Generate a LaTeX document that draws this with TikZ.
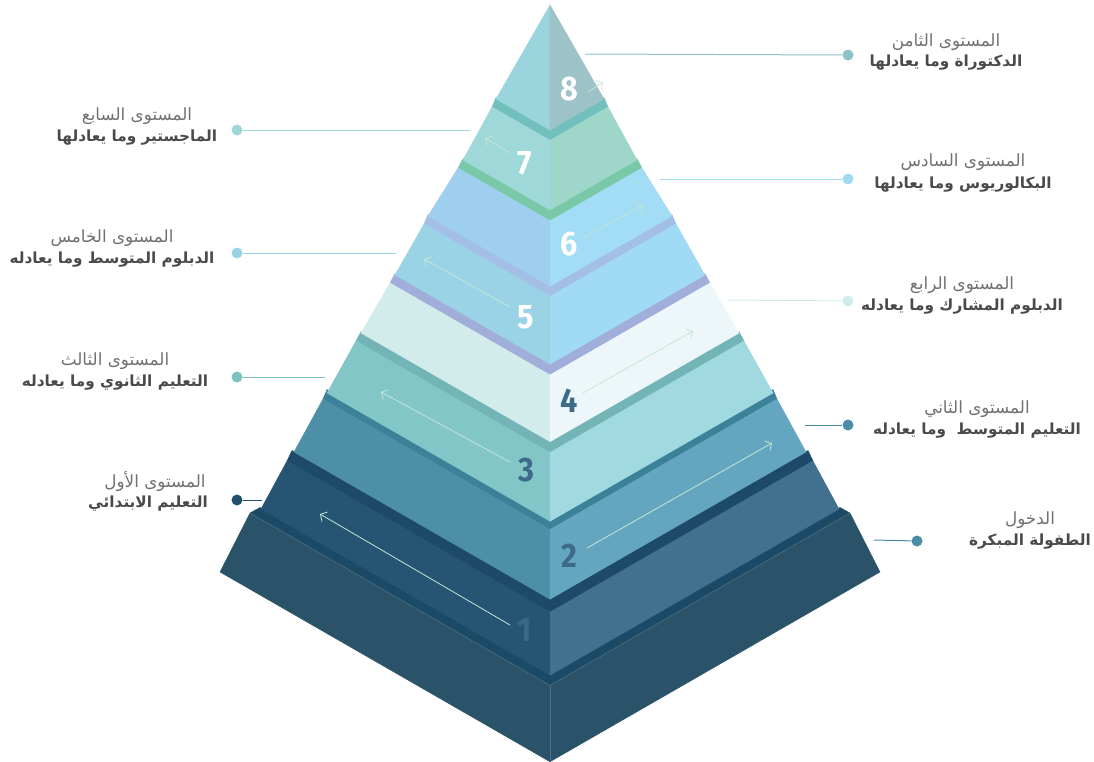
\documentclass[tikz,border=0pt]{standalone}
\usepackage{fontspec}
\usetikzlibrary{arrows.meta}
\TeXXeTstate=1
\newfontfamily\arabicfont[Script=Arabic]{DejaVu Sans}
\newfontfamily\numfont[FakeStretch=0.9]{Fira Sans}
% colours
\definecolor{eTl}{HTML}{9AD4DC}\definecolor{eTr}{HTML}{9DC2C8}
\definecolor{sS}{HTML}{72C0BD}\definecolor{sL}{HTML}{9FD8D8}\definecolor{sR}{HTML}{9ED6C9}
\definecolor{xS}{HTML}{79C9A8}\definecolor{xL}{HTML}{9FCFEF}\definecolor{xR}{HTML}{A2DCF5}
\definecolor{fS}{HTML}{A3BFE5}\definecolor{fL}{HTML}{9AD3E5}\definecolor{fR}{HTML}{A0DAF4}
\definecolor{qS}{HTML}{A2AEDA}\definecolor{qL}{HTML}{D2EBEB}\definecolor{qR}{HTML}{EDF7F9}
\definecolor{tS}{HTML}{73B4B7}\definecolor{tL}{HTML}{82C6C8}\definecolor{tR}{HTML}{A0D9E0}
\definecolor{wS}{HTML}{3B8197}\definecolor{wL}{HTML}{4D8FA6}\definecolor{wR}{HTML}{64A6BF}
\definecolor{oS}{HTML}{1D4A68}\definecolor{oL}{HTML}{255573}\definecolor{oR}{HTML}{41718F}
\definecolor{bS}{HTML}{1B4A66}\definecolor{bL}{HTML}{2A5369}\definecolor{bR}{HTML}{2A5369}
\definecolor{numdark}{HTML}{3D6A88}
\definecolor{arrowc}{HTML}{C5E6D5}
\definecolor{txtA}{HTML}{707070}\definecolor{txtB}{HTML}{4A4A4A}
\definecolor{c8}{HTML}{8DC3C6}\definecolor{c7}{HTML}{9ED8D4}\definecolor{c6}{HTML}{9FDCF2}
\definecolor{c5}{HTML}{9AD3E6}\definecolor{c4}{HTML}{CFEBEA}\definecolor{c3}{HTML}{7DC3C4}
\definecolor{c2}{HTML}{4A8EA6}\definecolor{c1}{HTML}{24506D}\definecolor{c0}{HTML}{4A8EA6}
% one layer: strip top (x,y), face top (x,y), bottom (x,y), strip/left/right colours
\newcommand{\pyrlayer}[9]{%
  \pgfmathsetmacro\pys{#2-1.5}%
  \pgfmathsetmacro\pcs{\pys+0.575*(550-#1)}%
  \pgfmathsetmacro\pcf{#4+0.575*(550-#3)}%
  \pgfmathsetmacro\pcb{#6+0.575*(550-#5)}%
  \pgfmathsetmacro\prs{1100-#1}%
  \pgfmathsetmacro\prf{1100-#3}%
  \pgfmathsetmacro\prb{1100-#5}%
  \filldraw[fill=#7,draw=#7,line width=0.4pt] (#1,\pys) -- (550,\pcs) -- (\prs,\pys) -- (\prf,#4) -- (550,\pcf) -- (#3,#4) -- cycle;
  \filldraw[fill=#8,draw=#8,line width=0.4pt] (#3,#4) -- (550,\pcf) -- (550,\pcb) -- (#5,#6) -- cycle;
  \filldraw[fill=#9,draw=#9,line width=0.4pt] (\prf,#4) -- (550,\pcf) -- (550,\pcb) -- (\prb,#6) -- cycle;
}
\tikzset{
  num/.style={font=\numfont\bfseries\fontsize{34}{34}\selectfont, inner sep=0pt, anchor=center},
  dot/.style={circle, inner sep=0pt, minimum size=11pt, draw=none},
  leader/.style={line width=1pt},
  flow/.style={draw=arrowc, line width=0.8pt, -{Straight Barb[length=5pt,width=11pt]}},
  lblA/.style={font=\arabicfont\fontsize{16.8}{18}\selectfont, text=txtA, inner sep=0pt, anchor=center},
  lblB/.style={font=\arabicfont\bfseries\fontsize{15.3}{17}\selectfont, text=txtB, inner sep=0pt, anchor=center}
}
\begin{document}
\begin{tikzpicture}[x=1pt,y=-1pt]
\useasboundingbox (0,0) rectangle (1094,761);
% base
\pyrlayer{260}{509}{250}{513}{220}{572}{bS}{bL}{bR}
% layer 1
\pyrlayer{292}{452}{287}{461}{261}{509}{oS}{oL}{oR}
% layer 2
\pyrlayer{327}{391}{323}{399}{294}{452}{wS}{wL}{wR}
% layer 3
\pyrlayer{361}{333}{356}{341}{327}{393}{tS}{tL}{tR}
% layer 4
\pyrlayer{395}{275}{390}{283}{361}{333}{qS}{qL}{qR}
% layer 5
\pyrlayer{428}{216}{424}{224}{395}{275}{fS}{fL}{fR}
% layer 6
\pyrlayer{463}{160}{458}{168}{428}{216}{xS}{xL}{xR}
% layer 7
\pyrlayer{496}{99}{492}{107}{463}{160}{sS}{sL}{sR}
% layer 8 (top)
\filldraw[fill=eTl,draw=eTl,line width=0.4pt] (550,5) -- (496,99) -- (550,130) -- cycle;
\filldraw[fill=eTr,draw=eTr,line width=0.4pt] (550,5) -- (604,99) -- (550,130) -- cycle;
% faint edges of the base
\draw[white,opacity=0.18,line width=0.5pt] (250,513) -- (550,685.5) -- (850,513);
\draw[white,opacity=0.18,line width=0.5pt] (550,685.5) -- (550,761);

% flow arrows
\coordinate (a8s) at (588,92); \coordinate (a8e) at (603,82);
\coordinate (a7s) at (510,153); \coordinate (a7e) at (485,138);
\coordinate (a6s) at (583,238); \coordinate (a6e) at (643,205);
\coordinate (a5s) at (510,307); \coordinate (a5e) at (424,259);
\coordinate (a4s) at (583,393); \coordinate (a4e) at (693,331);
\coordinate (a3s) at (510,462); \coordinate (a3e) at (381,392);
\coordinate (a2s) at (587,548); \coordinate (a2e) at (772,443);
\coordinate (a1s) at (510,625); \coordinate (a1e) at (320,514);
\foreach \i in {1,...,8}{\draw[flow] (a\i s) -- (a\i e);}

% numbers
\node[num,text=white] (n8) at (569,89) {8};
\node[num,text=white] (n7) at (525,163) {7};
\node[num,text=white] (n6) at (569,244) {6};
\node[num,text=white] (n5) at (526,317) {5};
\node[num,text=numdark] (n4) at (569,401) {4};
\node[num,text=numdark] (n3) at (526,470) {3};
\node[num,text=numdark] (n2) at (569,556) {2};
\node[num,text=numdark!90!oL] (n1) at (525,630) {1};

% leaders and dots
\coordinate (p8) at (585,54);  \node[dot,fill=c8] (d8) at (848,55) {};
\coordinate (p6) at (660,179); \node[dot,fill=c6] (d6) at (848,179) {};
\coordinate (p4) at (728,300); \node[dot,fill=c4] (d4) at (848,301) {};
\coordinate (p2) at (805,425); \node[dot,fill=c2] (d2) at (848,425) {};
\coordinate (p0) at (874,540); \node[dot,fill=c0] (d0) at (917,541) {};
\coordinate (p7) at (470,130); \node[dot,fill=c7] (d7) at (237,130) {};
\coordinate (p5) at (396,253); \node[dot,fill=c5] (d5) at (237,253) {};
\coordinate (p3) at (325,377); \node[dot,fill=c3] (d3) at (237,377) {};
\coordinate (p1) at (262,500); \node[dot,fill=c1] (d1) at (237,500) {};
\foreach \i in {0,...,8}{\draw[leader,c\i] (p\i) -- (d\i);}

% labels
\node[lblA] (t8a) at (946,42) {\beginR المستوى الثامن\endR};
\node[lblB] (t8b) at (946,63) {\beginR الدكتوراة وما يعادلها\endR};
\node[lblA] (t7a) at (137,116) {\beginR المستوى السابع\endR};
\node[lblB] (t7b) at (137,138) {\beginR الماجستير وما يعادلها\endR};
\node[lblA] (t6a) at (963,162) {\beginR المستوى السادس\endR};
\node[lblB] (t6b) at (963,185) {\beginR البكالوريوس وما يعادلها\endR};
\node[lblA] (t5a) at (112,238) {\beginR المستوى الخامس\endR};
\node[lblB] (t5b) at (112,260) {\beginR الدبلوم المتوسط وما يعادله\endR};
\node[lblA] (t4a) at (962,285) {\beginR المستوى الرابع\endR};
\node[lblB] (t4b) at (962,307) {\beginR الدبلوم المشارك وما يعادله\endR};
\node[lblA] (t3a) at (115,361) {\beginR المستوى الثالث\endR};
\node[lblB] (t3b) at (115,383) {\beginR التعليم الثانوي وما يعادله\endR};
\node[lblA] (t2a) at (977,409) {\beginR المستوى الثاني\endR};
\node[lblB] (t2b) at (977,431) {\beginR التعليم المتوسط~ وما يعادله\endR};
\node[lblA] (t1a) at (155,482) {\beginR المستوى الأول\endR};
\node[lblB] (t1b) at (148,504) {\beginR التعليم الابتدائي\endR};
\node[lblA] (t0a) at (1030,520) {\beginR الدخول\endR};
\node[lblB] (t0b) at (1030,542) {\beginR الطفولة المبكرة\endR};
\end{tikzpicture}
\end{document}
